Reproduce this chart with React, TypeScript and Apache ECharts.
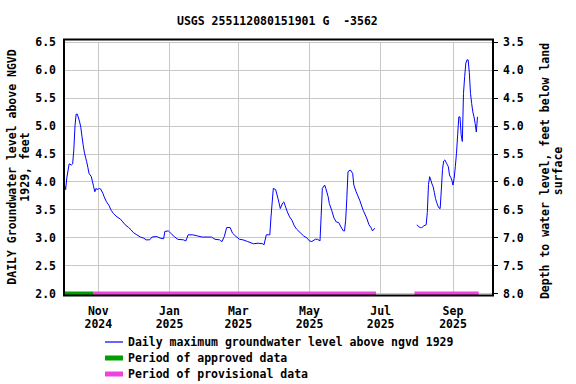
import React, { useEffect, useRef } from 'react';
import * as echarts from 'echarts';

const titleText = 'USGS 255112080151901 G  -3562';
const leftAxisName = 'DAILY Groundwater level above NGVD\n1929, feet';
const rightAxisName = 'Depth to water level, feet below land\nsurface';
const seriesNames = [
  'Daily maximum groundwater level above ngvd 1929',
  'Period of approved data',
  'Period of provisional data',
];
const monthNames = ['Jan', 'Feb', 'Mar', 'Apr', 'May', 'Jun', 'Jul', 'Aug', 'Sep', 'Oct', 'Nov', 'Dec'];

const dates: string[] = [
  '2024-10-03', '2024-10-04', '2024-10-05', '2024-10-07', '2024-10-09', '2024-10-10', '2024-10-11',
  '2024-10-12', '2024-10-13', '2024-10-14', '2024-10-15', '2024-10-16', '2024-10-17', '2024-10-18',
  '2024-10-19', '2024-10-20', '2024-10-21', '2024-10-22', '2024-10-23', '2024-10-24', '2024-10-26',
  '2024-10-27', '2024-10-28', '2024-10-29', '2024-10-30', '2024-10-31', '2024-11-02', '2024-11-03',
  '2024-11-05', '2024-11-06', '2024-11-08', '2024-11-10', '2024-11-12', '2024-11-14', '2024-11-17',
  '2024-11-20', '2024-11-22', '2024-11-24', '2024-11-27', '2024-11-29', '2024-12-01', '2024-12-04',
  '2024-12-07', '2024-12-10', '2024-12-12', '2024-12-15', '2024-12-17', '2024-12-21', '2024-12-24',
  '2024-12-27', '2024-12-28', '2024-12-31', '2025-01-03', '2025-01-05', '2025-01-08', '2025-01-13',
  '2025-01-15', '2025-01-17', '2025-01-21', '2025-01-25', '2025-01-29', '2025-02-06', '2025-02-09',
  '2025-02-13', '2025-02-14', '2025-02-15', '2025-02-17', '2025-02-19', '2025-02-22', '2025-02-24',
  '2025-02-27', '2025-03-02', '2025-03-05', '2025-03-09', '2025-03-14', '2025-03-18', '2025-03-22',
  '2025-03-23', '2025-03-25', '2025-03-28', '2025-03-29', '2025-03-31', '2025-04-02', '2025-04-04',
  '2025-04-06', '2025-04-08', '2025-04-09', '2025-04-10', '2025-04-12', '2025-04-14', '2025-04-16',
  '2025-04-18', '2025-04-20', '2025-04-23', '2025-04-26', '2025-04-29', '2025-05-01', '2025-05-03',
  '2025-05-06', '2025-05-08', '2025-05-10', '2025-05-11', '2025-05-12', '2025-05-14', '2025-05-15',
  '2025-05-17', '2025-05-18', '2025-05-20', '2025-05-22', '2025-05-24', '2025-05-26', '2025-05-28',
  '2025-05-30', '2025-05-31', '2025-06-01', '2025-06-02', '2025-06-03', '2025-06-05', '2025-06-07',
  '2025-06-08', '2025-06-10', '2025-06-13', '2025-06-16', '2025-06-19', '2025-06-21', '2025-06-23',
  '2025-06-24', '2025-06-26', '2025-07-15',
  '2025-08-01', '2025-08-02', '2025-08-03', '2025-08-04', '2025-08-05', '2025-08-06', '2025-08-07',
  '2025-08-08', '2025-08-09', '2025-08-10', '2025-08-11', '2025-08-12', '2025-08-13', '2025-08-14',
  '2025-08-15', '2025-08-16', '2025-08-17', '2025-08-18', '2025-08-19', '2025-08-20', '2025-08-21',
  '2025-08-22', '2025-08-23', '2025-08-24', '2025-08-25', '2025-08-26', '2025-08-27', '2025-08-28',
  '2025-08-29', '2025-08-30', '2025-08-31', '2025-09-01', '2025-09-02', '2025-09-03', '2025-09-04',
  '2025-09-05', '2025-09-06', '2025-09-07', '2025-09-08', '2025-09-09', '2025-09-10', '2025-09-11',
  '2025-09-12', '2025-09-13', '2025-09-14', '2025-09-15', '2025-09-16', '2025-09-17', '2025-09-18',
  '2025-09-19', '2025-09-20', '2025-09-21', '2025-09-22',
];

const levels: (number | null)[] = [
  3.94, 3.86, 4.07, 4.32, 4.30, 4.32, 4.57,
  5.00, 5.21, 5.21, 5.14, 5.07, 4.97, 4.81,
  4.66, 4.53, 4.44, 4.36, 4.26, 4.15, 4.09,
  4.00, 3.91, 3.82, 3.88, 3.86, 3.88, 3.87,
  3.79, 3.73, 3.64, 3.58, 3.49, 3.43, 3.37,
  3.33, 3.28, 3.23, 3.18, 3.14, 3.09, 3.05,
  3.01, 2.99, 2.96, 2.96, 3.01, 3.02, 2.99,
  2.98, 3.11, 3.12, 3.06, 3.02, 2.97, 2.96,
  2.94, 3.05, 3.05, 3.03, 3.01, 3.01, 2.97,
  2.96, 2.94, 2.93, 3.02, 3.18, 3.18, 3.08,
  3.02, 2.97, 2.96, 2.93, 2.89, 2.90, 2.89,
  2.87, 3.05, 3.05, 3.37, 3.88, 3.86, 3.70,
  3.52, 3.62, 3.64, 3.58, 3.46, 3.37, 3.31,
  3.21, 3.15, 3.09, 3.03, 2.99, 2.94, 2.93,
  2.97, 2.97, 2.94, 3.39, 3.88, 3.94, 3.88,
  3.73, 3.61, 3.49, 3.35, 3.28, 3.27, 3.19,
  3.12, 3.12, 3.31, 3.70, 4.18, 4.21, 4.15,
  3.94, 3.82, 3.67, 3.49, 3.35, 3.23, 3.17,
  3.12, 3.17, null,
  3.23, 3.21, 3.19, 3.18, 3.18, 3.19, 3.21,
  3.22, 3.23, 3.45, 3.95, 4.09, 4.03, 3.96,
  3.91, 3.81, 3.70, 3.63, 3.57, 3.53, 3.52,
  3.85, 4.22, 4.37, 4.39, 4.35, 4.31, 4.27,
  4.12, 4.08, 4.03, 3.94, 4.06, 4.27, 4.51,
  4.84, 5.16, 5.16, 4.84, 4.72, 5.58, 5.88,
  6.12, 6.18, 6.18, 5.95, 5.58, 5.40, 5.25,
  5.16, 5.04, 4.89, 5.16,
];

const approvedPeriods: [string, string][] = [['2024-10-02', '2024-10-28']];
const provisionalPeriods: [string, string][] = [
  ['2024-10-28', '2025-06-27'],
  ['2025-07-30', '2025-09-23'],
];

const leftTicks = { min: 2.0, max: 6.5, interval: 0.5 };
const rightTicks = { min: 3.5, max: 8.0, interval: 0.5 };

const FONT = "'DejaVu Sans Mono', 'Liberation Mono', monospace";
const DAY = 24 * 3600 * 1000;

function periodData(periods: [string, string][], level: number) {
  const out: any[] = [];
  periods.forEach((p, i) => {
    if (i > 0) out.push([p[0], null]);
    out.push([p[0], level]);
    out.push([p[1], level]);
  });
  return out;
}

export default function App() {
  const ref = useRef<HTMLDivElement>(null);

  useEffect(() => {
    if (!ref.current) return;
    const chart = echarts.init(ref.current, undefined, { renderer: 'svg' });
    const textBase = { fontFamily: FONT, fontWeight: 'bold' as const, color: '#000', fontSize: 11.5 };
    const gridLeft = 64;
    const gridRight = 493;
    const gridTop = 42;
    const gridBottom = 293.5;

    const legendBase = {
      left: 105,
      padding: 0,
      icon: 'rect',
      itemWidth: 18,
      textStyle: { ...textBase },
      selectedMode: false,
    };

    const option: any = {
      animation: false,
      backgroundColor: '#fff',
      textStyle: { fontFamily: FONT },
      title: {
        text: titleText,
        left: 177,
        top: 15,
        padding: 0,
        textStyle: { ...textBase },
      },
      grid: {
        left: gridLeft,
        right: 576 - gridRight,
        top: gridTop,
        bottom: 384 - gridBottom,
        containLabel: false,
      },
      xAxis: {
        type: 'time',
        min: new Date(2024, 9, 2, 14).getTime(),
        max: new Date(2025, 9, 5, 7).getTime(),
        minInterval: 60 * DAY,
        maxInterval: 62 * DAY,
        axisLine: { show: false },
        axisTick: { show: false },
        splitLine: { show: true, lineStyle: { color: '#c8c8c8', width: 1 } },
        axisLabel: {
          ...textBase,
          margin: 11,
          lineHeight: 13,
          showMinLabel: false,
          showMaxLabel: false,
          hideOverlap: false,
          formatter: (v: number) => {
            const d = new Date(v);
            if (d.getDate() !== 1 || d.getHours() !== 0) return '';
            return monthNames[d.getMonth()] + '\n' + d.getFullYear();
          },
        },
      },
      yAxis: [
        {
          type: 'value',
          position: 'left',
          ...leftTicks,
          axisLine: { show: false },
          axisTick: { show: false },
          splitLine: { show: true, lineStyle: { color: '#c8c8c8', width: 1 } },
          axisLabel: { ...textBase, margin: 8, formatter: (v: number) => v.toFixed(1) },
        },
        {
          type: 'value',
          position: 'right',
          inverse: true,
          ...rightTicks,
          axisLine: { show: false },
          axisTick: { show: true, inside: false, length: 5, lineStyle: { color: '#000', width: 1 } },
          splitLine: { show: false },
          axisLabel: { ...textBase, margin: 10, formatter: (v: number) => v.toFixed(1) },
        },
      ],
      legend: [
        { ...legendBase, data: [seriesNames[0]], top: 336, itemHeight: 1.2 },
        { ...legendBase, data: [seriesNames[1]], top: 352, itemHeight: 5 },
        { ...legendBase, data: [seriesNames[2]], top: 368, itemHeight: 5 },
      ],
      series: [
        {
          name: seriesNames[0],
          type: 'line',
          yAxisIndex: 0,
          data: dates.map((d, i) => [d, levels[i]]),
          showSymbol: false,
          connectNulls: false,
          color: '#0000ff',
          lineStyle: { color: '#0000ff', width: 1 },
          z: 3,
        },
        {
          name: seriesNames[1],
          type: 'line',
          yAxisIndex: 0,
          data: periodData(approvedPeriods, 2.0),
          showSymbol: false,
          clip: false,
          color: '#009e00',
          lineStyle: { color: '#009e00', width: 4 },
          z: 4,
        },
        {
          name: seriesNames[2],
          type: 'line',
          yAxisIndex: 0,
          data: periodData(provisionalPeriods, 2.0),
          showSymbol: false,
          clip: false,
          connectNulls: false,
          color: '#ee44dd',
          lineStyle: { color: '#ee44dd', width: 4 },
          z: 4,
        },
      ],
      graphic: [
        {
          type: 'rect',
          z: 100,
          silent: true,
          shape: { x: gridLeft, y: 39.5, width: gridRight - gridLeft, height: 256 },
          style: { fill: 'none', stroke: '#000', lineWidth: 2 },
        },
        {
          type: 'text',
          z: 100,
          x: 18.5,
          y: 167,
          rotation: Math.PI / 2,
          style: {
            text: leftAxisName,
            font: `bold 11.5px ${FONT}`,
            fill: '#000',
            textAlign: 'center',
            textVerticalAlign: 'middle',
            lineHeight: 13,
          },
        },
        {
          type: 'text',
          z: 100,
          x: 551,
          y: 171,
          rotation: Math.PI / 2,
          style: {
            text: rightAxisName,
            font: `bold 11.5px ${FONT}`,
            fill: '#000',
            textAlign: 'center',
            textVerticalAlign: 'middle',
            lineHeight: 13,
          },
        },
      ],
    };

    chart.setOption(option);
    return () => chart.dispose();
  }, []);

  return (
    <div
      ref={ref}
      style={{ position: 'absolute', left: 0, top: 0, width: 576, height: 384 }}
    />
  );
}
